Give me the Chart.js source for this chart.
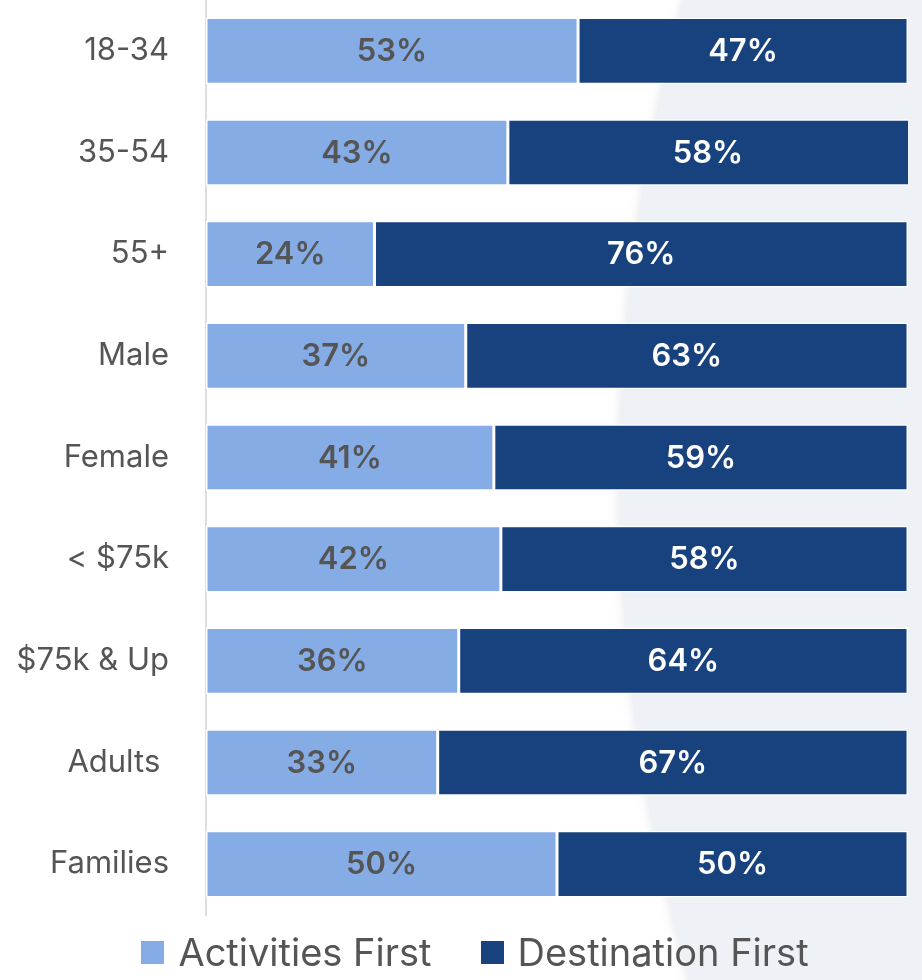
<!DOCTYPE html>
<html>
<head>
<meta charset="utf-8">
<script src="https://cdn.jsdelivr.net/npm/chart.js@4"></script>
<style>
  html, body { margin: 0; padding: 0; background: #fff; }
  #wrap { position: relative; width: 922px; height: 980px; }
  #legend {
    position: absolute; left: 0; right: 0; top: 929px;
    display: flex; justify-content: center; gap: 49px;
    font-family: Inter, sans-serif; font-size: 38px; color: #555;
    padding-left: 28px;
  }
  #legend span.item { display: flex; align-items: center; }
  #legend i { display: inline-block; width: 23px; height: 23px; margin-right: 14px; }
</style>
</head>
<body>
<div id="wrap">
  <canvas id="chart" width="922" height="980"></canvas>
  <div id="legend"></div>
</div>
<script>
const categories = ["18-34", "35-54", "55+", "Male", "Female", "< $75k", "$75k & Up", "Adults ", "Families"];
const activitiesFirst = [53, 43, 24, 37, 41, 42, 36, 33, 50];
const destinationFirst = [47, 58, 76, 63, 59, 58, 64, 67, 50];
const seriesNames = ["Activities First", "Destination First"];
const seriesColors = ["#86ace6", "#18427e"];
const labelColors = ["#555555", "#ffffff"];

const FONT = "Inter, sans-serif";

// faint round backdrop on the right side
const backdrop = {
  id: "backdrop",
  beforeDraw(chart) {
    const { ctx } = chart;
    ctx.save();
    ctx.fillStyle = "#eef1f6";
    ctx.shadowColor = "rgba(200,205,215,0.6)";
    ctx.shadowBlur = 12;
    ctx.beginPath();
    ctx.arc(620 + 1820, 480, 1820, 0, Math.PI * 2);
    ctx.fill();
    ctx.restore();
  }
};

// percentage labels in the middle of each segment
const segmentLabels = {
  id: "segmentLabels",
  afterDatasetsDraw(chart) {
    const { ctx, chartArea } = chart;
    ctx.save();
    ctx.font = "600 31px " + FONT;
    ctx.textAlign = "center";
    ctx.textBaseline = "middle";
    chart.data.datasets.forEach((ds, i) => {
      const meta = chart.getDatasetMeta(i);
      meta.data.forEach((bar, j) => {
        const right = Math.min(bar.x, chartArea.right);
        const left = Math.max(bar.base, chartArea.left);
        ctx.fillStyle = labelColors[i];
        ctx.fillText(ds.data[j] + "%", (left + right) / 2, bar.y + 1);
      });
    });
    ctx.restore();
  }
};

new Chart(document.getElementById("chart"), {
  type: "bar",
  data: {
    labels: categories,
    datasets: [
      { label: seriesNames[0], data: activitiesFirst, backgroundColor: seriesColors[0] },
      { label: seriesNames[1], data: destinationFirst, backgroundColor: seriesColors[1] }
    ].map(d => ({
      ...d,
      borderColor: "#ffffff",
      borderWidth: 1.5,
      borderSkipped: false,
      barPercentage: 0.655,
      categoryPercentage: 1,
      clip: 0
    }))
  },
  options: {
    indexAxis: "y",
    responsive: false,
    animation: false,
    layout: { padding: { top: 0, right: 14, bottom: 65, left: 0 } },
    plugins: {
      legend: { display: false },
      tooltip: { enabled: false }
    },
    scales: {
      x: { stacked: true, min: 0, max: 100, display: false },
      y: {
        stacked: true,
        grid: { display: false, drawTicks: false },
        border: { display: true, color: "#dddddd", width: 2 },
        ticks: { color: "#555555", padding: 37, font: { family: FONT, size: 31 } },
        afterFit(scale) {
          scale.width = 206;
          scale.paddingTop = 0;
          scale.paddingBottom = 0;
        }
      }
    }
  },
  plugins: [backdrop, segmentLabels]
});

// legend under the chart
const legendEl = document.getElementById("legend");
seriesNames.forEach((name, i) => {
  const item = document.createElement("span");
  item.className = "item";
  const sw = document.createElement("i");
  sw.style.background = seriesColors[i];
  item.appendChild(sw);
  item.appendChild(document.createTextNode(name));
  legendEl.appendChild(item);
});
</script>
</body>
</html>
